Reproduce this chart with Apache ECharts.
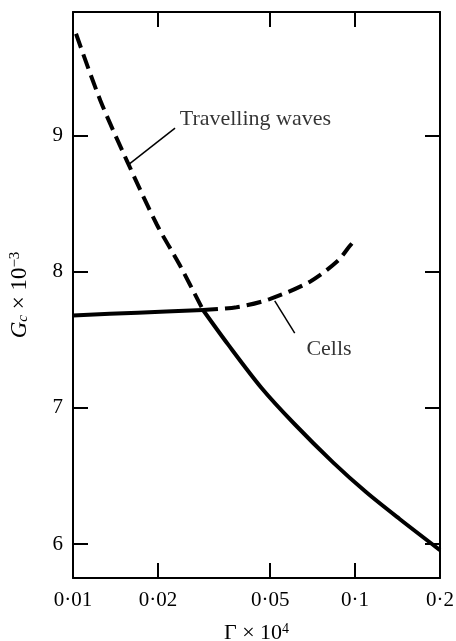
<!DOCTYPE html>
<html>
<head>
<meta charset="utf-8">
<script src="https://cdn.jsdelivr.net/npm/echarts@6/dist/echarts.min.js"></script>
<style>
  html, body { margin: 0; padding: 0; background: #fff; }
  #chart { width: 456px; height: 641px; }
</style>
</head>
<body>
<div id="chart"></div>
<script>
// x: Gamma x 10^4 (log scale), y: Gc x 10^-3
const xTicks = [0.01, 0.02, 0.05, 0.1, 0.2];
const yTicks = [6, 7, 8, 9];

// travelling waves, dashed part (left of the crossing)
const travDashX = [0.01025, 0.0125, 0.0155, 0.0198, 0.0239, 0.0289];
const travDashY = [9.75, 9.26, 8.82, 8.35, 8.05, 7.72];
// travelling waves, solid part
const travSolidX = [0.0289, 0.0355, 0.0466, 0.0611, 0.0835, 0.1096, 0.1438, 0.2];
const travSolidY = [7.72, 7.465, 7.147, 6.88, 6.60, 6.38, 6.184, 5.955];

// cells, solid part
const cellSolidX = [0.01, 0.017, 0.0289];
const cellSolidY = [7.68, 7.70, 7.72];
// cells, dashed part
const cellDashX = [0.0289, 0.038, 0.0498, 0.0694, 0.0867, 0.0957, 0.0995];
const cellDashY = [7.72, 7.74, 7.80, 7.93, 8.08, 8.19, 8.23];

// annotation leaders and text anchors (data coords)
const travLeaderX = [0.01565, 0.0230];
const travLeaderY = [8.785, 9.057];
const cellLeaderX = [0.0519, 0.0611];
const cellLeaderY = [7.787, 7.55];
const labelText = ['Travelling waves', 'Cells'];
const labelX = [0.0239, 0.0672];
const labelY = [9.12, 7.43];

const zip = (xs, ys) => xs.map((x, i) => [x, ys[i]]);
const FONT = "'Liberation Serif', 'DejaVu Serif', serif";
const dotFmt = v => String(v).replace('.', '·');

const chart = echarts.init(document.getElementById('chart'));

const xBase = {
  type: 'log',
  logBase: 10,
  min: 0.01,
  max: 0.2,
  axisLine: { lineStyle: { color: '#000', width: 2 } },
  axisTick: { inside: true, length: 15, customValues: xTicks, lineStyle: { color: '#000', width: 2 } },
  splitLine: { show: false }
};
const yBase = {
  type: 'value',
  min: 5.75,
  max: 9.91,
  axisLine: { show: true, lineStyle: { color: '#000', width: 2 } },
  axisTick: { inside: true, length: 15, customValues: yTicks, lineStyle: { color: '#000', width: 2 } },
  splitLine: { show: false }
};

const lineStyleSolid = { color: '#000', width: 4, type: 'solid' };
const lineStyleDash = { color: '#000', width: 4, type: [15, 7] };

const option = {
  animation: false,
  backgroundColor: '#fff',
  grid: { left: 73, right: 16, top: 12, bottom: 63, containLabel: false, outerBoundsMode: 'none' },
  xAxis: [
    Object.assign({}, xBase, {
      position: 'bottom',
      name: 'Γ × 10{sup|4}',
      nameLocation: 'middle',
      nameGap: 44,
      nameTextStyle: {
        fontFamily: FONT, fontSize: 22, color: '#000',
        rich: { sup: { fontFamily: FONT, fontSize: 14, verticalAlign: 'top', color: '#000' } }
      },
      axisLabel: {
        customValues: xTicks,
        margin: 12,
        fontFamily: FONT, fontSize: 21, color: '#000',
        formatter: dotFmt
      }
    }),
    Object.assign({}, xBase, {
      position: 'top',
      axisLabel: { show: false }
    })
  ],
  yAxis: [
    Object.assign({}, yBase, {
      position: 'left',
      name: '{it|G}{sub|c} × 10{sup|−3}',
      nameLocation: 'middle',
      nameRotate: 90,
      nameGap: 42,
      nameTextStyle: {
        fontFamily: FONT, fontSize: 23, color: '#000',
        rich: {
          it: { fontFamily: FONT, fontSize: 23, fontStyle: 'italic', color: '#000' },
          sub: { fontFamily: FONT, fontSize: 15, fontStyle: 'italic', verticalAlign: 'bottom', color: '#000' },
          sup: { fontFamily: FONT, fontSize: 15, verticalAlign: 'top', color: '#000' }
        }
      },
      axisLabel: {
        customValues: yTicks,
        margin: 10,
        fontFamily: FONT, fontSize: 21, color: '#000'
      }
    }),
    Object.assign({}, yBase, {
      position: 'right',
      axisLabel: { show: false }
    })
  ],
  series: [
    { name: 'Travelling waves', type: 'line', data: zip(travDashX, travDashY), smooth: 0.3,
      showSymbol: false, lineStyle: lineStyleDash },
    { name: 'Travelling waves', type: 'line', data: zip(travSolidX, travSolidY), smooth: 0.3,
      showSymbol: false, lineStyle: lineStyleSolid },
    { name: 'Cells', type: 'line', data: zip(cellSolidX, cellSolidY), smooth: 0.3,
      showSymbol: false, lineStyle: lineStyleSolid },
    { name: 'Cells', type: 'line', data: zip(cellDashX, cellDashY), smooth: 0.3,
      showSymbol: false, lineStyle: lineStyleDash },
    { type: 'line', data: zip(travLeaderX, travLeaderY), showSymbol: false,
      lineStyle: { color: '#000', width: 1.5 } },
    { type: 'line', data: zip(cellLeaderX, cellLeaderY), showSymbol: false,
      lineStyle: { color: '#000', width: 1.5 } },
    {
      type: 'scatter',
      symbolSize: 0,
      data: labelX.map((x, i) => ({ value: [x, labelY[i]], name: labelText[i] })),
      label: {
        show: true,
        position: 'right',
        distance: 0,
        formatter: p => p.name,
        fontFamily: FONT, fontSize: 22, color: '#000'
      }
    }
  ]
};

chart.setOption(option);
</script>
</body>
</html>
